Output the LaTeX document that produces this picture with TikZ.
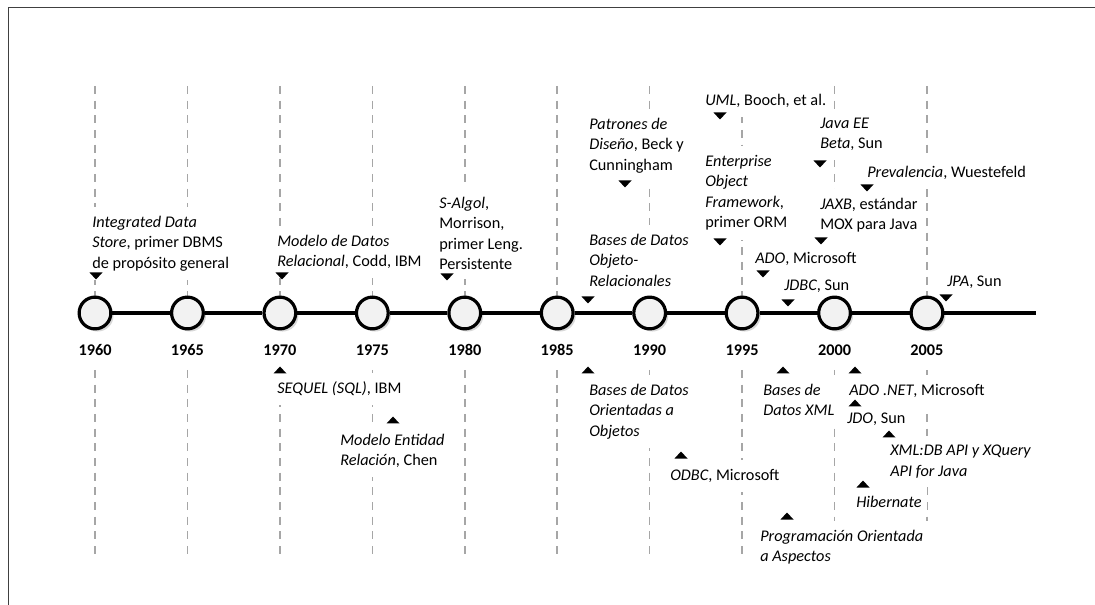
\documentclass[tikz,border=0pt]{standalone}
\usepackage{fontspec}
\setmainfont{Carlito}
\usetikzlibrary{shadows}
\definecolor{marco}{HTML}{404040}
\definecolor{gris}{HTML}{A6A6A6}
\definecolor{relleno}{HTML}{F2F2F2}
\tikzset{
  anio/.style={circle, draw=black, line width=2.4pt, fill=relleno, minimum size=23.8pt, inner sep=0pt,
    drop shadow={shadow xshift=2pt, shadow yshift=-2pt, fill=black!30}},
  fecha/.style={font=\fontsize{12.2}{14}\selectfont\bfseries},
  evento/.style={anchor=north west, align=left, fill=white, inner xsep=4pt, inner ysep=7pt,
    xshift=-4pt, yshift=5pt},
  guia/.style={gris, line width=1.1pt, dash pattern=on 6pt off 5pt},
  bajo/.pic={\fill (-6.5,-3.5) -- (6.5,-3.5) -- (0,3.5) -- cycle;},
  sube/.pic={\fill (-6.5,3.5) -- (6.5,3.5) -- (0,-3.5) -- cycle;}
}
\begin{document}
\begin{tikzpicture}[x=0.75pt, y=-0.75pt, font=\fontsize{12.2}{15.4}\selectfont]
  \useasboundingbox (0,0) rectangle (1095,605);
  \draw[marco, line width=0.8pt] (8.5,605) -- (8.5,7.5) -- (1095,7.5);
  % lineas guia
  \foreach \i in {0,...,9} {
    \draw[guia] (95+92.44*\i,86) -- (95+92.44*\i,313);
    \draw[guia] (95+92.44*\i,370) -- (95+92.44*\i,557);
  }
  % eventos arriba
  \node[evento] (ids) at (92,213) {\textit{Integrated Data}\\\textit{Store}, primer DBMS\\de propósito general};
  \node[evento] (relacional) at (277,232) {\textit{Modelo de Datos}\\\textit{Relacional}, Codd, IBM};
  \node[evento] (salgol) at (439,194) {\textit{S-Algol},\\Morrison,\\primer Leng.\\Persistente};
  \node[evento] (patrones) at (589,115) {\textit{Patrones de}\\\textit{Diseño}, Beck y\\Cunningham};
  \node[evento] (objrel) at (589,231) {\textit{Bases de Datos}\\\textit{Objeto-}\\\textit{Relacionales}};
  \node[evento] (uml) at (705,91) {\textit{UML}, Booch, et al.};
  \node[evento] (eof) at (705,152) {\textit{Enterprise}\\\textit{Object}\\\textit{Framework},\\primer ORM};
  \node[evento] (javaee) at (820,115) {\textit{Java EE}\\\textit{Beta}, Sun};
  \node[evento] (prevalencia) at (867,163) {\textit{Prevalencia}, Wuestefeld};
  \node[evento] (jaxb) at (820,195) {\textit{JAXB}, estándar\\MOX para Java};
  \node[evento] (ado) at (755,249) {\textit{ADO}, Microsoft};
  \node[evento] (jdbc) at (784,277) {\textit{JDBC}, Sun};
  \node[evento] (jpa) at (947,273) {\textit{JPA}, Sun};
  % eventos abajo
  \node[evento] (sequel) at (277,379) {\textit{SEQUEL (SQL)}, IBM};
  \node[evento] (entidad) at (340,431) {\textit{Modelo Entidad}\\\textit{Relación}, Chen};
  \node[evento] (oodb) at (589,381) {\textit{Bases de Datos}\\\textit{Orientadas a}\\\textit{Objetos}};
  \node[evento] (odbc) at (670,466) {\textit{ODBC}, Microsoft};
  \node[evento] (xmlbd) at (763,381) {\textit{Bases de}\\\textit{Datos XML}};
  \node[evento] (aop) at (760,527) {\textit{Programación Orientada}\\\textit{a Aspectos}};
  \node[evento] (adonet) at (849,381) {\textit{ADO .NET}, Microsoft};
  \node[evento] (jdo) at (847,410) {\textit{JDO}, Sun};
  \node[evento] (xqj) at (890,442) {\textit{XML:DB API y XQuery}\\\textit{API for Java}};
  \node[evento] (hibernate) at (856,493) {\textit{Hibernate}};
  % linea de tiempo
  \foreach \i/\a in {0/1960,1/1965,2/1970,3/1975,4/1980,5/1985,6/1990,7/1995,8/2000,9/2005} {
    \node[anio] (c\a) at (95+92.44*\i,313) {};
    \node[fecha] (f\a) at (95+92.44*\i,350) {\a};
  }
  \coordinate (fin) at (1036,313);
  \draw[line width=2.4pt] (c1960) -- (c1965) -- (c1970) -- (c1975) -- (c1980) -- (c1985)
    -- (c1990) -- (c1995) -- (c2000) -- (c2005) -- (fin);
  % marcas
  \pic at (96,276) {bajo};
  \pic at (282,276) {bajo};
  \pic at (447,277) {bajo};
  \pic at (625,184) {bajo};
  \pic at (588,300) {bajo};
  \pic at (720,116) {bajo};
  \pic at (720,242) {bajo};
  \pic at (820,164) {bajo};
  \pic at (867,188) {bajo};
  \pic at (821,241) {bajo};
  \pic at (763,274) {bajo};
  \pic at (788,303) {bajo};
  \pic at (946,298) {bajo};
  \pic at (280,370) {sube};
  \pic at (393,420) {sube};
  \pic at (588,370) {sube};
  \pic at (681,455) {sube};
  \pic at (783,370) {sube};
  \pic at (787,516) {sube};
  \pic at (855,370) {sube};
  \pic at (855,403) {sube};
  \pic at (889,434) {sube};
  \pic at (863,484) {sube};
\end{tikzpicture}
\end{document}
